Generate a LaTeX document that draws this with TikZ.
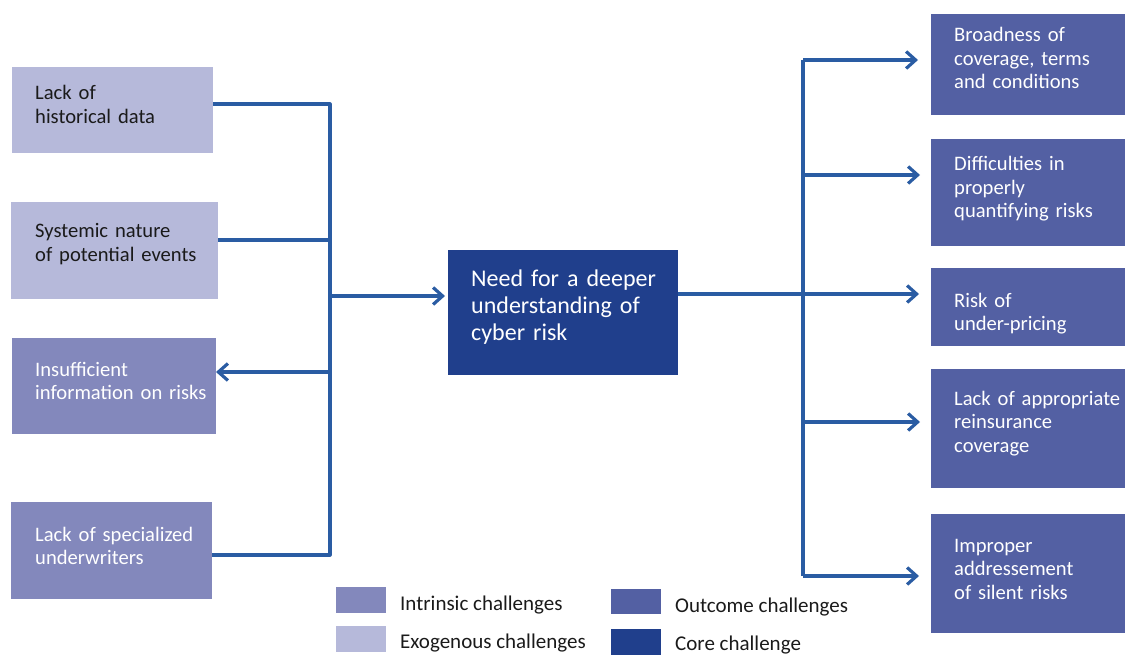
\documentclass[tikz,border=0pt]{standalone}
\usepackage{fontspec}
\setmainfont{Carlito}
\usetikzlibrary{arrows.meta,calc}
\definecolor{exo}{HTML}{B6B9DA}
\definecolor{intr}{HTML}{8388BC}
\definecolor{outc}{HTML}{5360A3}
\definecolor{core}{HTML}{203F8C}
\definecolor{linec}{HTML}{2A5CA3}
\definecolor{dark}{HTML}{1A1A1A}
\begin{document}
\begin{tikzpicture}[x=1pt,y=-1pt,
  box/.style={fill=#1,draw=none,anchor=north west,inner sep=0pt,outer sep=0pt},
  txt/.style={anchor=base west,inner sep=0pt,text width=230pt,align=left,
    font=\fontsize{20.6}{23.5}\selectfont,text=white},
  coretxt/.style={txt,font=\fontsize{24}{26.8}\selectfont},
  legtxt/.style={anchor=base west,inner sep=0pt,font=\fontsize{21}{24}\selectfont,text=dark},
  conn/.style={draw=linec,line width=3.2pt,line join=round},
  arr/.style={conn,-{Straight Barb[length=9.5pt,width=17pt]}}]
\useasboundingbox (0,0) rectangle (1125,655);
% left boxes
\node[box=exo,minimum width=201pt,minimum height=86pt] (l1) at (12,67) {};
\node[box=exo,minimum width=207pt,minimum height=97pt] (l2) at (11,202) {};
\node[box=intr,minimum width=204pt,minimum height=96pt] (l3) at (12,338) {};
\node[box=intr,minimum width=201pt,minimum height=97pt] (l4) at (11,502) {};
\node[txt,text=dark] (t1) at (35,100) {Lack of\\historical data};
\node[txt,text=dark] (t2) at (35,238) {Systemic nature\\of potential events};
\node[txt] (t3) at (35,376) {Insufficient\\information on risks};
\node[txt] (t4) at (35,541) {Lack of specialized\\underwriters};
% core
\node[box=core,minimum width=230pt,minimum height=125pt] (c) at (448,250) {};
\node[coretxt] (tc) at (471,287) {Need for a deeper\\understanding of\\cyber risk};
% right boxes
\node[box=outc,minimum width=194pt,minimum height=101pt] (r1) at (931,14) {};
\node[box=outc,minimum width=194pt,minimum height=107pt] (r2) at (931,139) {};
\node[box=outc,minimum width=194pt,minimum height=78pt] (r3) at (931,268) {};
\node[box=outc,minimum width=194pt,minimum height=119pt] (r4) at (931,369) {};
\node[box=outc,minimum width=194pt,minimum height=119pt] (r5) at (931,514) {};
\node[txt] (s1) at (954,42) {Broadness of\\coverage, terms\\and conditions};
\node[txt] (s2) at (954,171) {Difficulties in\\properly\\quantifying risks};
\node[txt] (s3) at (954,307) {Risk of\\under-pricing};
\node[txt] (s4) at (954,405) {Lack of appropriate\\reinsurance\\coverage};
\node[txt] (s5) at (954,552) {Improper\\addressement\\of silent risks};
% left bus
\coordinate (lt) at (330,104);
\coordinate (lj2) at (330,240);
\coordinate (lj3) at (330,372);
\coordinate (ljc) at (330,296);
\coordinate (lb) at (330,555);
\draw[conn] (l1.east|-lt) -- (lt) -- (lb) -- (l4.east|-lb);
\draw[conn] (l2.east|-lj2) -- (lj2);
\draw[arr] (lj3) -- (l3.east|-lj3);
\draw[arr,shorten >=3pt] (ljc) -- (c.west|-ljc);
% right bus
\coordinate (rc) at (803,294);
\coordinate (rj1) at (803,60);
\coordinate (rj2) at (803,175);
\coordinate (rj4) at (803,422);
\coordinate (rj5) at (803,576);
\draw[conn] (c.east|-rc) -- (rc);
\draw[conn] (rj1) -- (rj5);
\draw[arr,shorten >=13pt] (rj1) -- (r1.west|-rj1);
\draw[arr,shorten >=11pt] (rj2) -- (r2.west|-rj2);
\draw[arr,shorten >=12pt] (rc) -- (r3.west|-rc);
\draw[arr,shorten >=11pt] (rj4) -- (r4.west|-rj4);
\draw[arr,shorten >=12pt] (rj5) -- (r5.west|-rj5);
% legend
\node[box=intr,minimum width=50pt,minimum height=26pt] (k1) at (336,587) {};
\node[box=exo,minimum width=50pt,minimum height=26pt] (k2) at (336,626) {};
\node[box=outc,minimum width=50pt,minimum height=25pt] (k3) at (611,589) {};
\node[box=core,minimum width=50pt,minimum height=26pt] (k4) at (611,629) {};
\node[legtxt] (kt1) at (400,610) {Intrinsic challenges};
\node[legtxt] (kt2) at (400,648) {Exogenous challenges};
\node[legtxt] (kt3) at (675,612) {Outcome challenges};
\node[legtxt] (kt4) at (675,650) {Core challenge};
\end{tikzpicture}
\end{document}
